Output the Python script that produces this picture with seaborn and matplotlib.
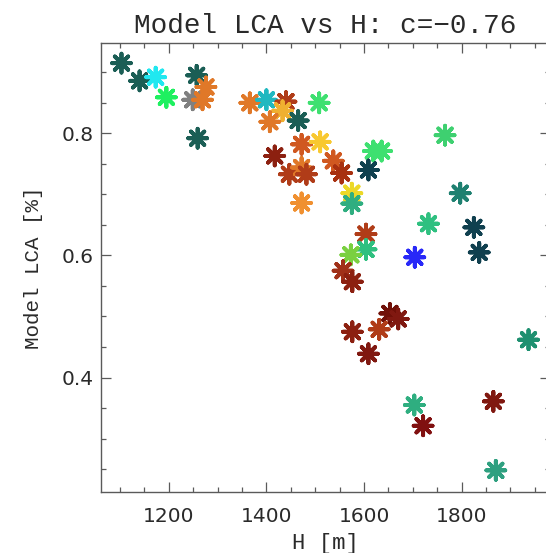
import matplotlib
matplotlib.use("Agg")
import matplotlib.pyplot as plt
from matplotlib.ticker import MultipleLocator, FormatStrFormatter
import seaborn as sns
import pandas as pd

# Station height [m]
height_m = [1103, 1140, 1173, 1195, 1257, 1276, 1249, 1269, 1259, 1366,
            1400, 1440, 1433, 1407, 1465, 1508, 1472, 1510, 1417, 1447,
            1472, 1482, 1472, 1537, 1554, 1619, 1636, 1609, 1575, 1575,
            1766, 1797, 1732, 1825, 1604, 1604, 1573, 1704, 1836, 1557,
            1576, 1653, 1670, 1631, 1576, 1609, 1937, 1703, 1721, 1865,
            1870]

# Modelled LCA [%]
model_lca = [0.915, 0.886, 0.892, 0.859, 0.895, 0.876, 0.855, 0.855, 0.792, 0.850,
             0.855, 0.852, 0.837, 0.819, 0.821, 0.850, 0.782, 0.786, 0.763, 0.733,
             0.744, 0.733, 0.686, 0.755, 0.735, 0.771, 0.771, 0.740, 0.702, 0.685,
             0.797, 0.702, 0.652, 0.646, 0.635, 0.610, 0.601, 0.597, 0.605, 0.575,
             0.557, 0.505, 0.496, 0.479, 0.475, 0.439, 0.462, 0.355, 0.321, 0.361,
             0.248]

# Station colour
station_colour = ["#1b5e55", "#1b5e55", "#20e8f0", "#1ef060", "#1b5e55", "#e07828", "#808080", "#e07828", "#1b5e55", "#e07828",
                  "#20b8c0", "#b03c18", "#f0b030", "#e07828", "#1b5e55", "#3ee070", "#d05820", "#f8c830", "#8c2010", "#b03c18",
                  "#e07828", "#b03c18", "#f09030", "#d05820", "#a83010", "#3ee070", "#3ee070", "#10404f", "#ecd828", "#2fae80",
                  "#3ed070", "#1e8070", "#2fc080", "#10404f", "#b03c18", "#2fc080", "#7ad040", "#2828f8", "#10404f", "#a03018",
                  "#8c2010", "#701008", "#801810", "#b03c18", "#8c2010", "#801810", "#1e9070", "#2fae80", "#801010", "#801810",
                  "#2fa080"]

x_ticks = [1200, 1400, 1600, 1800]
y_ticks = [0.4, 0.6, 0.8]

sns.set_theme(style="ticks")
plt.rcParams["font.family"] = ["DejaVu Sans"]

text_col = "#2a2a2a"
axis_col = "#5a5a5a"
serif_font = ["Liberation Mono", "DejaVu Sans Mono"]

W, H = 546, 553
fig = plt.figure(figsize=(W / 100, H / 100), dpi=100)
fig.patch.set_facecolor("white")

left, right, top, bottom = 100.5, 549.5, 43.0, 491.7
ax = fig.add_axes([left / W, 1 - bottom / H, (right - left) / W, (bottom - top) / H])
ax.set_facecolor("white")

df = pd.DataFrame({"H": height_m, "LCA": model_lca, "colour": station_colour})
sns.scatterplot(data=df, x="H", y="LCA", hue="colour",
                palette={c: c for c in set(station_colour)},
                marker=(8, 2, 0), s=185, linewidth=2.8,
                legend=False, ax=ax, zorder=3)

ax.set_xlim(1060, 1980)
ax.set_ylim(0.213, 0.948)

ax.set_xticks(x_ticks)
ax.set_yticks(y_ticks)
ax.xaxis.set_minor_locator(MultipleLocator(50))
ax.yaxis.set_minor_locator(MultipleLocator(0.05))
ax.yaxis.set_major_formatter(FormatStrFormatter("%.1f"))

ax.tick_params(which="both", direction="in", top=True, right=True,
               color=axis_col, width=0.9, labelcolor=text_col, labelsize=14.5)
ax.tick_params(which="major", length=7.5)
ax.tick_params(which="minor", length=3.6)
ax.tick_params(axis="x", which="major", pad=11)
ax.tick_params(axis="y", which="major", pad=5)

for sp in ax.spines.values():
    sp.set_color(axis_col)
    sp.set_linewidth(1.0)

ax.set_xlabel("H [m]", fontsize=16, color=text_col, family=serif_font, labelpad=5)
ax.set_ylabel("Model LCA [%]", fontsize=15, color=text_col, family=serif_font, labelpad=13)
ax.set_title("Model LCA vs H: c=\u22120.76", fontsize=20, color=text_col,
             family=serif_font, pad=7)

fig.savefig("out.png", dpi=100, facecolor="white")
